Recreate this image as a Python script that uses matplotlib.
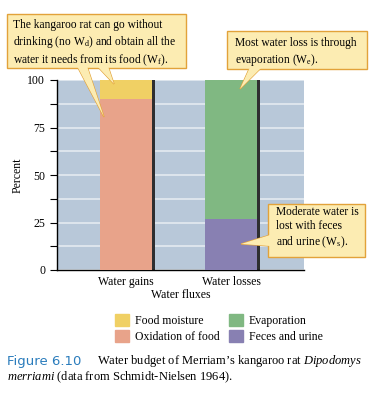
import matplotlib
matplotlib.use("Agg")
import matplotlib.pyplot as plt
from matplotlib.patches import Patch, Polygon, FancyBboxPatch

plt.rcParams["font.family"] = ["Liberation Serif", "DejaVu Serif"]
plt.rcParams["mathtext.fontset"] = "custom"
plt.rcParams["mathtext.rm"] = "Liberation Serif"
plt.rcParams["mathtext.it"] = "Liberation Serif:italic"

# Data (percent of water budget)
categories = ["Water gains", "Water losses"]
lower_labels = ["Oxidation of food", "Feces and urine"]
upper_labels = ["Food moisture", "Evaporation"]
lower_values = [90, 27]
upper_values = [10, 73]
lower_colors = ["#e8a38a", "#8880b2"]
upper_colors = ["#f0d064", "#80b882"]

W, H = 378, 394
fig = plt.figure(figsize=(W / 100, H / 100), dpi=100)


def px(x, y):
    # figure pixel (from top-left) -> figure fraction
    return (x / W, 1 - y / H)


ax = fig.add_axes([57 / W, 1 - 270 / H, (304 - 57) / W, (270 - 80) / H])
ax.set_facecolor("#b8c8d9")

x = list(range(len(categories)))
width = 0.5
shadow_x = [v + 0.025 for v in x]
totals = [a + b for a, b in zip(lower_values, upper_values)]
ax.bar(shadow_x, totals, width, color="#2e2e30", zorder=2)
ax.bar(x, lower_values, width, color=lower_colors, zorder=3)
ax.bar(x, upper_values, width, bottom=lower_values, color=upper_colors, zorder=3)

ax.set_xlim(-0.657, 1.695)
ax.set_ylim(0, 100)
ax.set_yticks([0, 25, 50, 75, 100])
ax.set_yticks([12.5, 37.5, 62.5, 87.5], minor=True)
ax.yaxis.grid(True, which="both", color="#e4eaf0", linewidth=1.2, zorder=1)
ax.set_axisbelow(True)
ax.set_xticks(x)
ax.set_xticklabels(categories)
ax.tick_params(axis="x", length=0, labelsize=8.5, pad=4)
ax.tick_params(axis="y", which="both", length=5, width=0.8, labelsize=8.5, direction="out")
for s in ["top", "right"]:
    ax.spines[s].set_visible(False)
ax.spines["left"].set_linewidth(1.0)
ax.spines["bottom"].set_linewidth(1.0)
ax.set_xlabel("Water fluxes", fontsize=8.5, labelpad=1)
fig.text(*px(18, 175), "Percent", rotation=90, fontsize=8.5, ha="center", va="center")

# Callout boxes
box_fc = "#fcecb2"
box_ec = "#e2a23a"


def callout(x0, y0, x1, y1, wedges, lines, tx, ty):
    bl = px(x0, y1)
    tr = px(x1, y0)
    fig.patches.append(FancyBboxPatch(bl, tr[0] - bl[0], tr[1] - bl[1],
                                      boxstyle="square,pad=0", fc=box_fc, ec=box_ec,
                                      lw=1.0, transform=fig.transFigure, zorder=5))
    for pts in wedges:
        fig.patches.append(Polygon([px(*p) for p in pts], closed=True, fc=box_fc,
                                   ec=box_ec, lw=0.9, transform=fig.transFigure,
                                   zorder=4))
        # cover the box border where the wedge joins
        fig.patches.append(Polygon([px(*p) for p in pts], closed=True, fc=box_fc,
                                   ec="none", transform=fig.transFigure, zorder=6))
    fig.text(*px(tx, ty), lines, fontsize=8.3, va="top", ha="left",
             linespacing=1.25, zorder=7)


callout(7, 14, 186, 68,
        [[(77, 66), (104, 117), (87, 66)], [(97, 66), (114, 84), (108, 66)]],
        "The kangaroo rat can go without\ndrinking (no W$_\\mathrm{d}$) and obtain all the\n"
        "water it needs from its food (W$_\\mathrm{f}$).", 13, 19)
callout(227, 31, 367, 69,
        [[(250, 67), (240, 89), (262, 67)]],
        "Most water loss is through\nevaporation (W$_\\mathrm{e}$).", 235, 37)
callout(268, 204, 365, 257,
        [[(270, 235), (241, 244), (270, 246)]],
        "Moderate water is\nlost with feces\nand urine (W$_\\mathrm{s}$).", 276, 206)

# Legend
handles = [Patch(color=upper_colors[0], label=upper_labels[0]),
           Patch(color=lower_colors[0], label=lower_labels[0]),
           Patch(color=upper_colors[1], label=upper_labels[1]),
           Patch(color=lower_colors[1], label=lower_labels[1])]
fig.legend(handles=handles, ncol=2, loc="upper left", bbox_to_anchor=px(104, 303),
           frameon=False, fontsize=8.5, handlelength=1.2, handleheight=1.2,
           handletextpad=0.5, columnspacing=0.8, labelspacing=0.3)

# Caption
fig.text(*px(7, 361), "Figure 6.10", family="DejaVu Sans", color="#2a7cbc",
         fontsize=9.5, va="center")
fig.text(*px(97, 361), "Water budget of Merriam\u2019s kangaroo rat $\\it{Dipodomys}$",
         fontsize=9, va="center")
fig.text(*px(7, 377), "$\\it{merriami}$ (data from Schmidt-Nielsen 1964).",
         fontsize=9, va="center")

fig.savefig("out.png", dpi=100)
